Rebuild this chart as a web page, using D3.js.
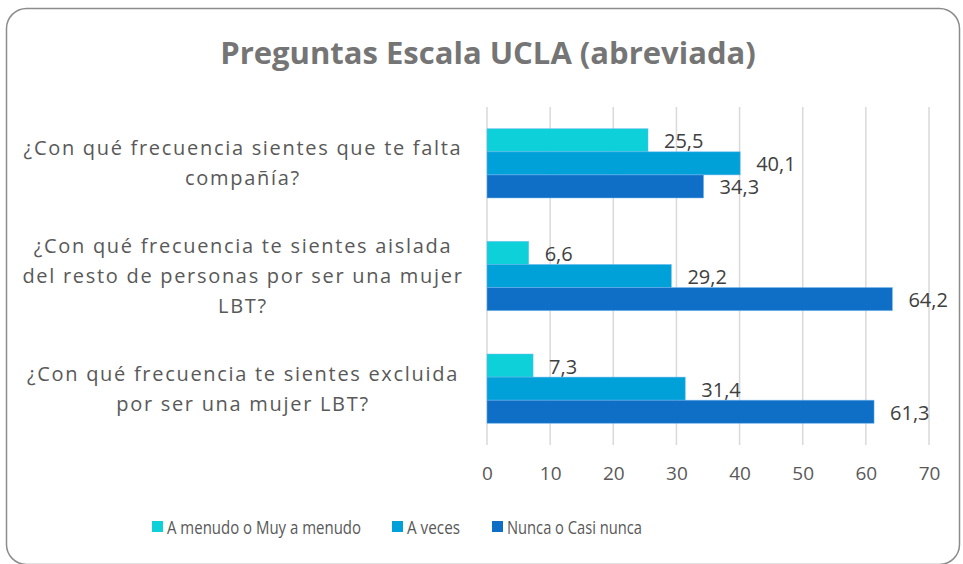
<!DOCTYPE html>
<html>
<head>
<meta charset="utf-8">
<script src="https://cdn.jsdelivr.net/npm/d3@7"></script>
<style>
  body { margin: 0; background: #fff; }
  svg { display: block; font-family: "Open Sans", "Noto Sans", sans-serif; }
</style>
</head>
<body>
<svg id="chart" width="963" height="564"></svg>
<script>
// data
const categories = [
  ["¿Con qué frecuencia sientes que te falta", "compañía?"],
  ["¿Con qué frecuencia te sientes aislada", "del resto de personas por ser una mujer", "LBT?"],
  ["¿Con qué frecuencia te sientes excluida", "por ser una mujer LBT?"]
];
const seriesNames = ["A menudo o Muy a menudo", "A veces", "Nunca o Casi nunca"];
const seriesColors = ["#0dd0d8", "#00a0d8", "#0f6fc6"];
const aMenudo = [25.5, 6.6, 7.3];
const aVeces = [40.1, 29.2, 31.4];
const nunca = [34.3, 64.2, 61.3];
const xTicks = [0, 10, 20, 30, 40, 50, 60, 70];

const seriesValues = [aMenudo, aVeces, nunca];

const margin = {top: 107, left: 487, right: 34, bottom: 119};
const width = 963, height = 564;

const svg = d3.select("#chart");

// outer frame
svg.append("rect")
  .attr("x", 6.5).attr("y", 8.5)
  .attr("width", 953).attr("height", 556)
  .attr("rx", 20)
  .attr("fill", "#fff")
  .attr("stroke", "#8c8c8c")
  .attr("stroke-width", 1.5);

svg.append("text")
  .attr("x", 488).attr("y", 64)
  .attr("text-anchor", "middle")
  .attr("font-size", 31)
  .attr("font-weight", "bold")
  .attr("fill", "#757575")
  .text("Preguntas Escala UCLA (abreviada)");

const x = d3.scaleLinear()
  .domain([0, 70])
  .range([margin.left, 929]);

const y = d3.scaleBand()
  .domain(d3.range(categories.length))
  .range([margin.top, height - margin.bottom])
  .paddingInner(0.385)
  .paddingOuter(0.1925);

const ySub = d3.scaleBand()
  .domain(d3.range(seriesNames.length))
  .range([0, y.bandwidth()]);

const es = d3.formatLocale({decimal: ",", thousands: ".", grouping: [3], currency: ["", "€"]});
const fmt = es.format(".1f");

// gridlines
svg.append("g")
  .selectAll("line")
  .data(xTicks)
  .join("line")
  .attr("x1", d => x(d)).attr("x2", d => x(d))
  .attr("y1", margin.top).attr("y2", height - margin.bottom)
  .attr("stroke", "#d9d9d9")
  .attr("stroke-width", 1.5);

// x axis labels
const xAxis = svg.append("g")
  .attr("transform", `translate(0,${height - margin.bottom})`)
  .call(d3.axisBottom(x).tickValues(xTicks).tickSize(0).tickPadding(22));
xAxis.select(".domain").remove();
xAxis.selectAll("text")
  .attr("font-size", 19)
  .attr("font-family", "'Open Sans', sans-serif")
  .attr("fill", "#595959");

// bars
const groups = svg.append("g")
  .selectAll("g")
  .data(seriesValues)
  .join("g")
  .attr("fill", (d, i) => seriesColors[i]);

groups.each(function(vals, si) {
  const g = d3.select(this);
  g.selectAll("rect")
    .data(vals)
    .join("rect")
    .attr("x", x(0))
    .attr("y", (d, ci) => y(ci) + ySub(si))
    .attr("width", d => x(d) - x(0))
    .attr("height", ySub.bandwidth())
    .attr("stroke", "#6fb8f0")
    .attr("stroke-opacity", 0.6)
    .attr("stroke-width", 0.8);
  g.selectAll("text")
    .data(vals)
    .join("text")
    .attr("x", d => x(d) + 16)
    .attr("y", (d, ci) => y(ci) + ySub(si) + ySub.bandwidth() / 2 + 8)
    .attr("font-size", 20)
    .attr("fill", "#404040")
    .text(d => fmt(d));
});

// category labels
const lineH = 30;
svg.append("g")
  .selectAll("text")
  .data(categories)
  .join("text")
  .attr("text-anchor", "middle")
  .attr("font-size", 20)
  .attr("letter-spacing", 1.7)
  .attr("fill", "#595959")
  .each(function(lines, ci) {
    const cy = y(ci) + y.bandwidth() / 2;
    const top = cy - (lines.length - 1) * lineH / 2 + 7;
    d3.select(this).selectAll("tspan")
      .data(lines)
      .join("tspan")
      .attr("x", 243)
      .attr("y", (d, li) => top + li * lineH)
      .text(d => d);
  });

// legend
const legendX = [152, 392, 492];
const legendW = [194, 53, 135];
const legend = svg.append("g")
  .selectAll("g")
  .data(seriesNames)
  .join("g")
  .attr("transform", (d, i) => `translate(${legendX[i]},521)`);
legend.append("rect")
  .attr("width", 11).attr("height", 11)
  .attr("fill", (d, i) => seriesColors[i]);
legend.append("text")
  .attr("x", 15).attr("y", 13)
  .attr("font-size", 18)
  .attr("textLength", (d, i) => legendW[i])
  .attr("lengthAdjust", "spacingAndGlyphs")
  .attr("fill", "#595959")
  .text(d => d);
</script>
</body>
</html>
